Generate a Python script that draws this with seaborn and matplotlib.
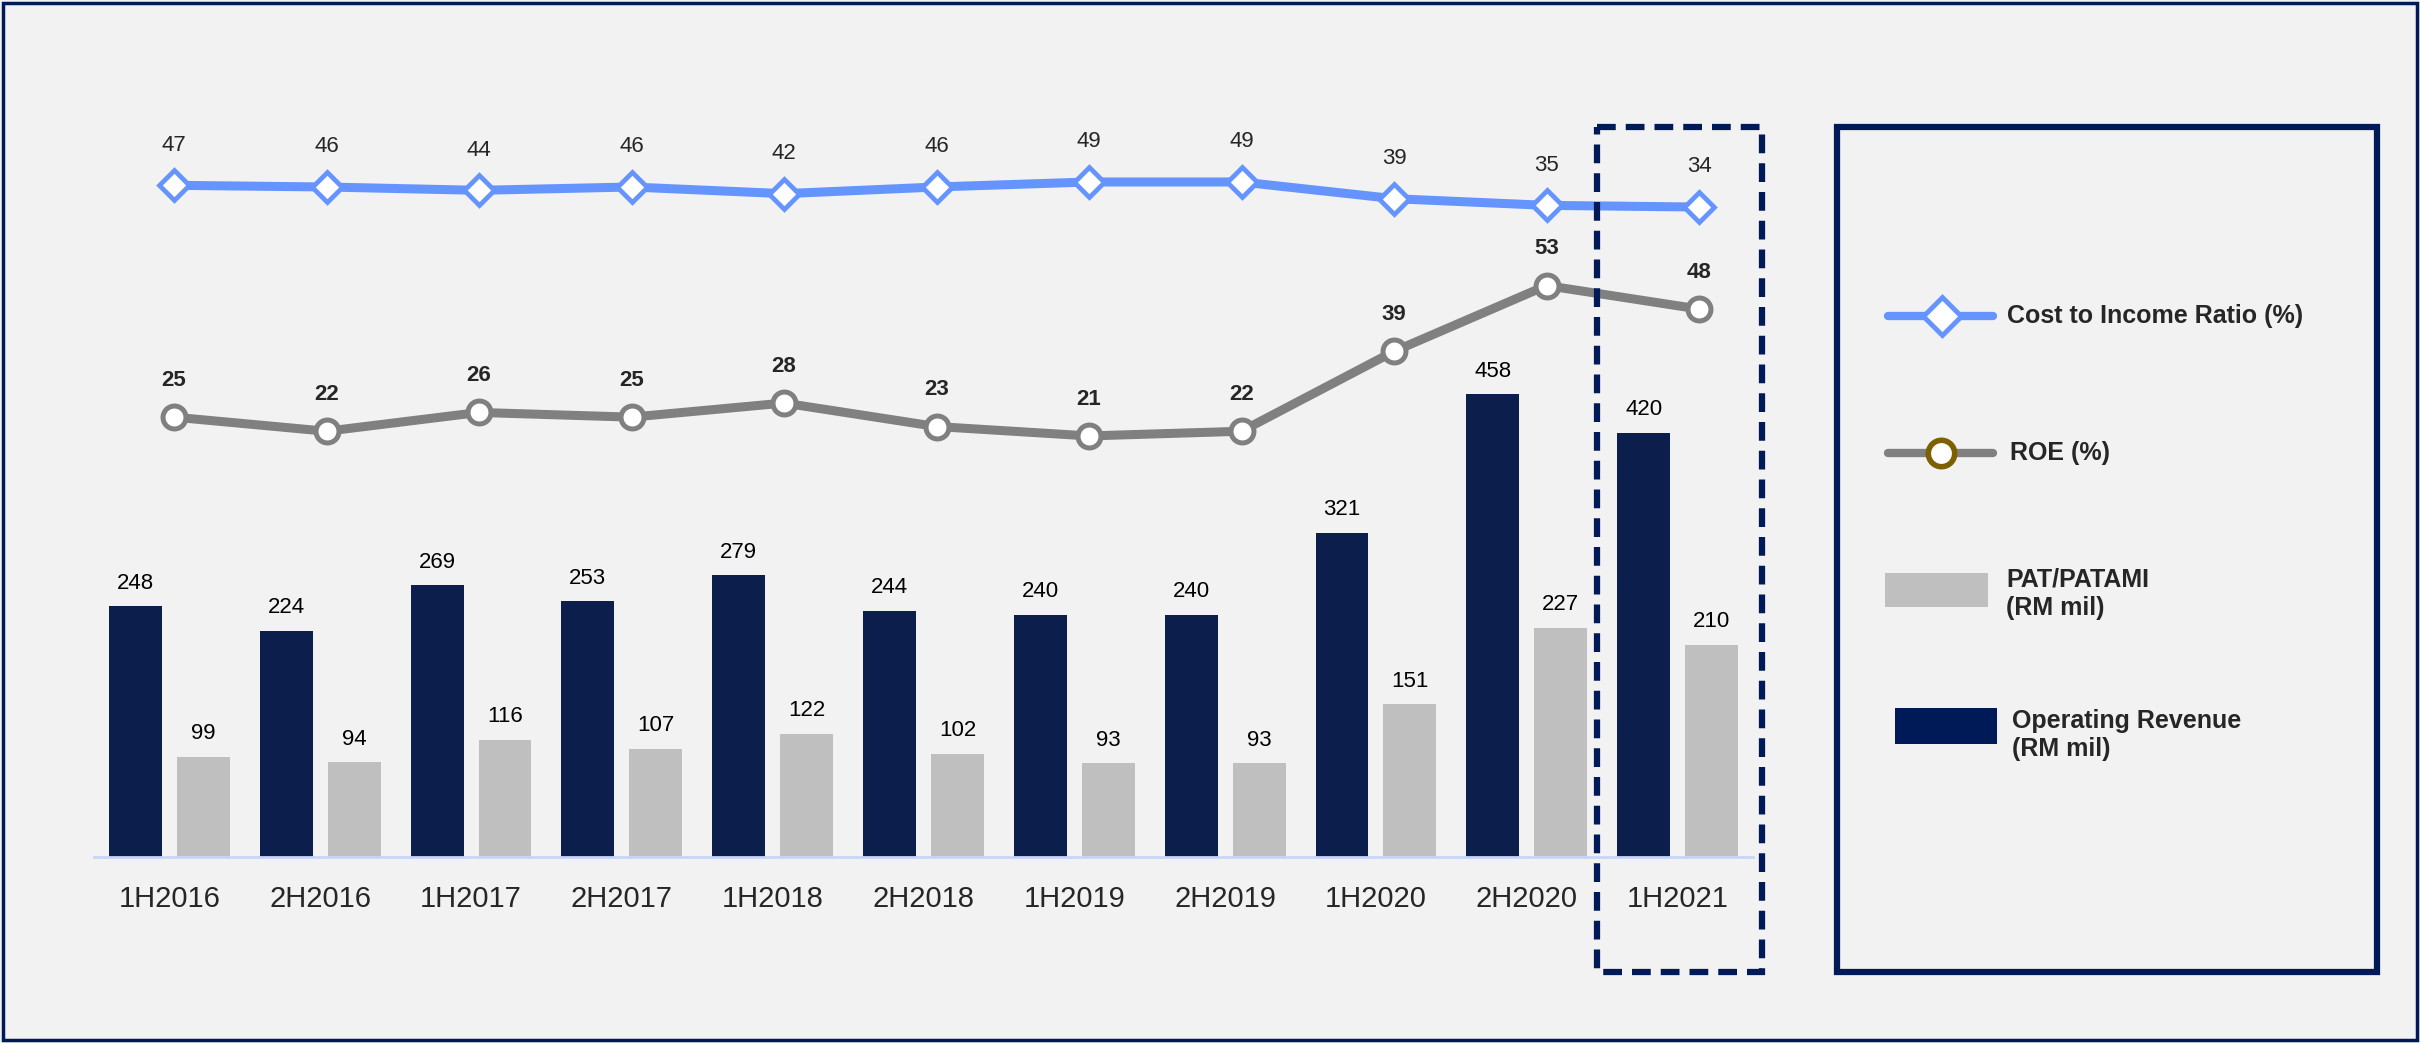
import numpy as np
import pandas as pd
import matplotlib
matplotlib.use('Agg')
import matplotlib.pyplot as plt
import seaborn as sns
from matplotlib.patches import Rectangle
from matplotlib.lines import Line2D

# 数据
periods = ['1H2016', '2H2016', '1H2017', '2H2017', '1H2018', '2H2018',
           '1H2019', '2H2019', '1H2020', '2H2020', '1H2021']
op_revenue = [248, 224, 269, 253, 279, 244, 240, 240, 321, 458, 420]
pat = [99, 94, 116, 107, 122, 102, 93, 93, 151, 227, 210]
cost_income = [47, 46, 44, 46, 42, 46, 49, 49, 39, 35, 34]
roe = [25, 22, 26, 25, 28, 23, 21, 22, 39, 53, 48]

NAVY = '#001a57'
GREY_BAR = '#bfbfbf'
BLUE = '#6694ff'
GREY_LINE = '#808080'
OLIVE = '#7f6000'
BG = '#f2f2f2'

sns.set_style('white')
plt.rcParams['font.family'] = ['Liberation Sans', 'DejaVu Sans']

W, H = 2420, 1043
fig = plt.figure(figsize=(W / 100, H / 100), dpi=100, facecolor=BG)

# 主坐标轴（柱状图）
left, right, bottom, top = 94, 1753, 857, 60
rect = [left / W, 1 - bottom / H, (right - left) / W, (bottom - top) / H]
ax = fig.add_axes(rect)
ax.set_facecolor(BG)

df = pd.DataFrame({
    'period': periods * 2,
    'series': ['Operating Revenue'] * len(periods) + ['PAT/PATAMI'] * len(periods),
    'value': op_revenue + pat,
})
sns.barplot(data=df, x='period', y='value', hue='series',
            hue_order=['Operating Revenue', 'PAT/PATAMI'],
            palette=[NAVY, GREY_BAR], width=0.9, gap=0.22,
            linewidth=0, legend=False, ax=ax)
for cont in ax.containers:
    ax.bar_label(cont, fmt='%d', padding=9, fontsize=16, color='black')

ax.set_xlim(-0.5, len(periods) - 0.5)
ax.set_ylim(0, 789)
ax.set_xlabel('')
ax.set_ylabel('')
ax.set_yticks([])
ax.tick_params(axis='x', length=0, pad=20, labelsize=21)
for s in ['top', 'left', 'right']:
    ax.spines[s].set_visible(False)
ax.spines['bottom'].set_color('#c6d6f7')
ax.spines['bottom'].set_linewidth(2)

xs = np.arange(len(periods))
# 折线的横向间距与柱子略有不同，单独建坐标轴
line_xlim = (-0.5246, 10.354)

# ROE 折线
ax2 = fig.add_axes(rect, facecolor='none')
sns.lineplot(x=xs, y=roe, ax=ax2, color=GREY_LINE, lw=6.5, marker='o',
             markersize=16.5, markerfacecolor='white', markeredgecolor=GREY_LINE,
             markeredgewidth=3.6)
ax2.set_ylim(-68.6, 101)
for x, v in zip(xs, roe):
    ax2.annotate(str(v), (x, v), xytext=(0, 26.5), textcoords='offset points',
                 ha='center', va='center', fontsize=16, fontweight='bold')

# 成本收入比折线
ax3 = fig.add_axes(rect, facecolor='none')
sns.lineplot(x=xs, y=cost_income, ax=ax3, color=BLUE, lw=6.5, marker='D',
             markersize=15, markerfacecolor='white', markeredgecolor=BLUE,
             markeredgewidth=3.4)
ax3.set_ylim(-355, 122)
for x, v in zip(xs, cost_income):
    ax3.annotate(str(v), (x, v), xytext=(0, 29), textcoords='offset points',
                 ha='center', va='center', fontsize=16)

for a in (ax2, ax3):
    a.set_xlim(*line_xlim)
    a.set_xticks([])
    a.set_yticks([])
    a.set_ylabel('')
    for s in a.spines.values():
        s.set_visible(False)

# 覆盖层：边框、虚线框、图例
ov = fig.add_axes([0, 0, 1, 1], facecolor='none')
ov.set_xlim(0, W)
ov.set_ylim(H, 0)
ov.axis('off')

ov.add_patch(Rectangle((3, 3), W - 6, H - 6, fill=False, ec=NAVY, lw=2.5))
ov.add_patch(Rectangle((1597, 127), 165, 845, fill=False, ec=NAVY, lw=4.5,
                       ls=(0, (3, 1.6))))
ov.add_patch(Rectangle((1837, 127), 540, 845, fill=False, ec=NAVY, lw=4.5))

ov.add_line(Line2D([1888, 1993], [316, 316], color=BLUE, lw=6))
ov.plot([1942], [316], marker='D', markersize=19, mfc='white', mec=BLUE, mew=3.5)
ov.text(2007, 316, 'Cost to Income Ratio (%)', fontsize=18, fontweight='bold',
        va='center', ha='left')

ov.add_line(Line2D([1888, 1993], [453, 453], color=GREY_LINE, lw=6))
ov.plot([1941], [453], marker='o', markersize=19, mfc='white', mec=OLIVE, mew=4)
ov.text(2010, 453, 'ROE (%)', fontsize=18, fontweight='bold', va='center', ha='left')

ov.add_patch(Rectangle((1885, 573), 103, 34, color=GREY_BAR, lw=0))
ov.text(2006, 594, 'PAT/PATAMI\n(RM mil)', fontsize=18, fontweight='bold',
        va='center', ha='left', linespacing=1.25)

ov.add_patch(Rectangle((1895, 708), 102, 36, color=NAVY, lw=0))
ov.text(2012, 735, 'Operating Revenue\n(RM mil)', fontsize=18, fontweight='bold',
        va='center', ha='left', linespacing=1.25)

fig.savefig('out.png', dpi=100, facecolor=BG)
